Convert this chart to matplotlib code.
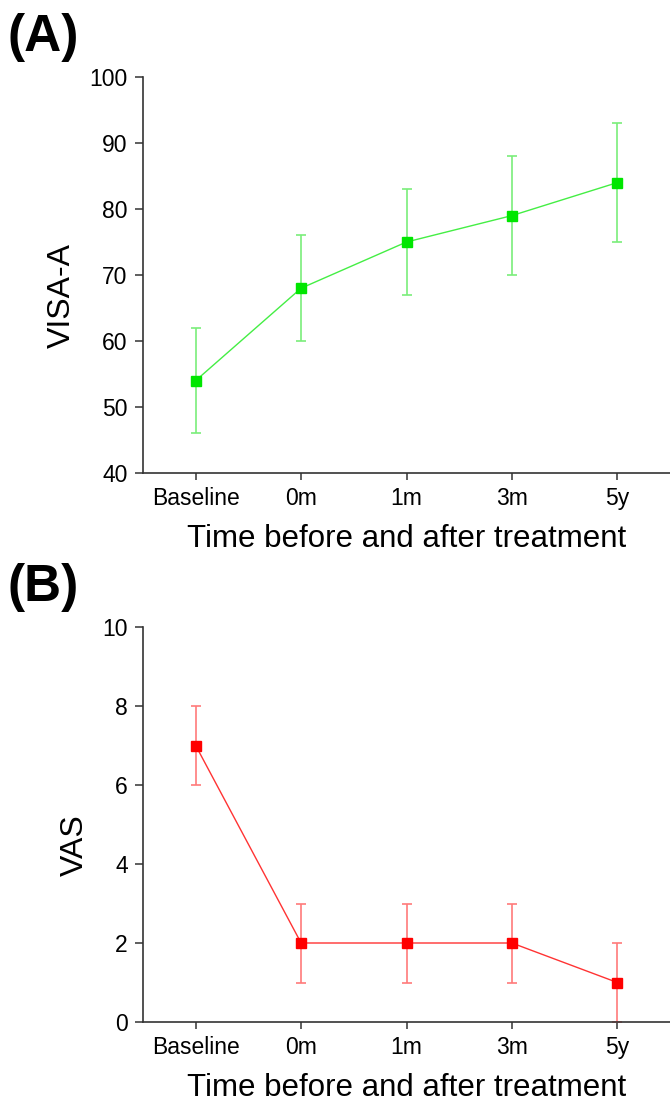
import matplotlib
matplotlib.use("Agg")
import matplotlib.pyplot as plt

plt.rcParams['font.family'] = ['Liberation Sans', 'DejaVu Sans']

categories = ["Baseline", "0m", "1m", "3m", "5y"]
visa_mean = [54, 68, 75, 79, 84]
visa_lo = [46, 60, 67, 70, 75]
visa_hi = [62, 76, 83, 88, 93]
vas_mean = [7, 2, 2, 2, 1]
vas_lo = [6, 1, 1, 1, 0]
vas_hi = [8, 3, 3, 3, 2]

W, H = 670, 1106
fig = plt.figure(figsize=(W / 100, H / 100), dpi=100)
left = 143 / W
width = 1 - left
axA = fig.add_axes([left, 1 - 473 / H, width, 396 / H])
axB = fig.add_axes([left, 1 - 1022 / H, width, 395 / H])

def panel(ax, mean, lo, hi, color, lcolor, ecolor, ylim, yticks, ylabel):
    x = list(range(len(categories)))
    yerr = [[m - l for m, l in zip(mean, lo)], [h - m for m, h in zip(mean, hi)]]
    ax.errorbar(x, mean, yerr=yerr, fmt='none', ecolor=ecolor, elinewidth=1.2,
                capsize=3.5, capthick=1.2, zorder=2)
    ax.plot(x, mean, color=lcolor, lw=1.0, zorder=3)
    ax.plot(x, mean, linestyle='none', marker='s', markersize=6.5,
            markerfacecolor=color, markeredgecolor=color, zorder=4)
    ax.set_xlim(-0.5, 4.5)
    ax.set_ylim(*ylim)
    ax.set_yticks(yticks)
    ax.set_xticks(x)
    ax.set_xticklabels(categories)
    for s in ['top', 'right']:
        ax.spines[s].set_visible(False)
    for s in ['left', 'bottom']:
        ax.spines[s].set_linewidth(1.2)
        ax.spines[s].set_color('#333333')
    ax.tick_params(axis='y', direction='out', length=6, width=1.1, labelsize=16.5,
                   pad=5, color='#333333')
    ax.tick_params(axis='x', direction='out', length=5, width=1.1, labelsize=16.5,
                   pad=5, color='#333333')
    ax.set_xlabel("Time before and after treatment", fontsize=22.5, labelpad=10)
    ax.set_ylabel(ylabel, fontsize=23, labelpad=9, y=0.448)

panel(axA, visa_mean, visa_lo, visa_hi, '#00e600', '#44ee44', '#7aee7a', (40, 100),
      [40, 50, 60, 70, 80, 90, 100], "VISA-A")
panel(axB, vas_mean, vas_lo, vas_hi, '#ff0000', '#ff3333', '#ff7a7a', (0, 10),
      [0, 2, 4, 6, 8, 10], "VAS")

fig.text(8 / W, 1 - 38 / H, "(A)", fontsize=37, fontweight='bold', ha='left', va='center')
fig.text(8 / W, 1 - 588 / H, "(B)", fontsize=37, fontweight='bold', ha='left', va='center')

fig.savefig("out.png", dpi=100)
